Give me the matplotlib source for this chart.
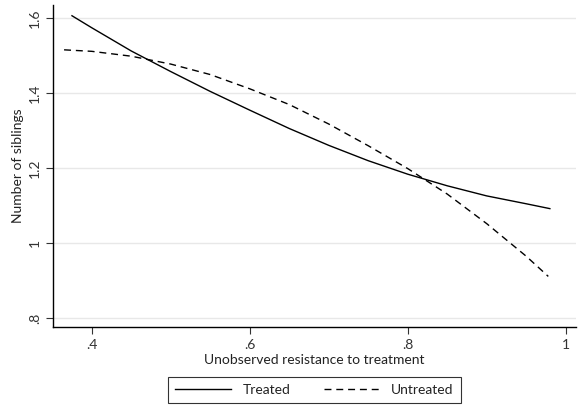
import matplotlib
matplotlib.use('Agg')
import matplotlib.pyplot as plt

plt.rcParams['font.family'] = ['Lato', 'DejaVu Sans']

# Curvas
x_treated = [0.375, 0.40, 0.45, 0.50, 0.55, 0.60, 0.65, 0.70, 0.75, 0.80, 0.85, 0.90, 0.95, 0.98]
y_treated = [1.607, 1.575, 1.513, 1.458, 1.405, 1.355, 1.306, 1.261, 1.220, 1.184, 1.153, 1.126, 1.105, 1.092]

x_untreated = [0.365, 0.40, 0.45, 0.50, 0.55, 0.60, 0.65, 0.70, 0.75, 0.80, 0.85, 0.90, 0.95, 0.978]
y_untreated = [1.516, 1.512, 1.499, 1.478, 1.450, 1.412, 1.370, 1.318, 1.260, 1.199, 1.131, 1.052, 0.965, 0.911]

xticks = [0.4, 0.6, 0.8, 1.0]
xtick_labels = ['.4', '.6', '.8', '1']
yticks = [0.8, 1.0, 1.2, 1.4, 1.6]
ytick_labels = ['.8', '1', '1.2', '1.4', '1.6']

fig = plt.figure(figsize=(5.8, 4.07), dpi=100)
ax = fig.add_axes([0.0914, 0.1966, 0.9016, 0.7914])

ax.plot(x_treated, y_treated, color='black', lw=1.0, label='Treated')
ax.plot(x_untreated, y_untreated, color='black', lw=1.0, ls=(0, (5, 3.5)), label='Untreated')

ax.set_xlim(0.351, 1.013)
ax.set_ylim(0.776, 1.636)
ax.set_xticks(xticks)
ax.set_xticklabels(xtick_labels)
ax.set_yticks(yticks)
ax.set_yticklabels(ytick_labels, rotation=90, va='center')
ax.grid(axis='y', color='#e8e8e8', lw=1.0)
ax.set_axisbelow(True)

for s in ['top', 'right']:
    ax.spines[s].set_visible(False)
for s in ['left', 'bottom']:
    ax.spines[s].set_linewidth(1.0)
ax.tick_params(direction='out', length=5, width=0.8, labelsize=10, colors='#333333', labelcolor='#333333')

ax.set_xlabel('Unobserved resistance to treatment', fontsize=10, labelpad=2, color='#222222')
ax.set_ylabel('Number of siblings', fontsize=10, labelpad=4, color='#222222')

leg = ax.legend(loc='upper center', bbox_to_anchor=(0.5, -0.135), ncol=2, frameon=True,
                fancybox=False, edgecolor='black', fontsize=10, handlelength=4.0,
                handletextpad=0.85, columnspacing=2.4, borderpad=0.5)
leg.get_frame().set_linewidth(0.8)
for t in leg.get_texts():
    t.set_color('#222222')

fig.savefig('out.png', dpi=100)
